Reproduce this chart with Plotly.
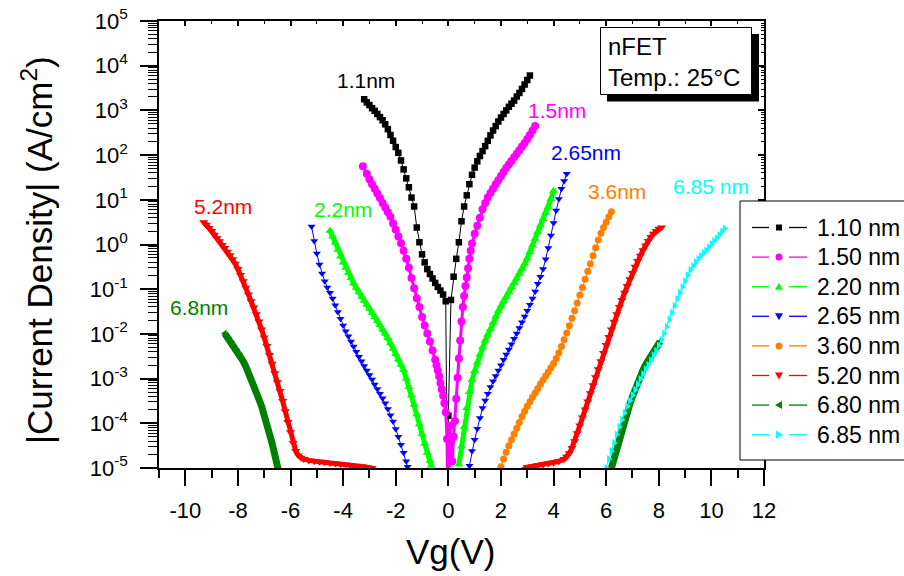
import plotly.graph_objects as go

# ---------------- data (Vg in V, log10 of |J| in A/cm^2) ----------------
names = ["1.10 nm", "1.50 nm", "2.20 nm", "2.65 nm", "3.60 nm", "5.20 nm", "6.80 nm", "6.85 nm"]

v_110 = [-3.2, -3.1, -3.0, -2.9, -2.8, -2.7, -2.6, -2.5, -2.4, -2.3, -2.2, -2.1, -2.0, -1.9, -1.8, -1.7,
         -1.6, -1.5, -1.4, -1.3, -1.2, -1.1, -1.0, -0.9, -0.8, -0.7, -0.6, -0.5, -0.4, -0.3, -0.2, -0.1,
         -0.03, 0.0,
         0.1, 0.2, 0.3, 0.4, 0.5, 0.6, 0.7, 0.8, 0.9, 1.0, 1.1, 1.2, 1.3, 1.4, 1.5, 1.6, 1.7, 1.8, 1.9,
         2.0, 2.1, 2.2, 2.3, 2.4, 2.5, 2.6, 2.7, 2.8, 2.9, 3.0, 3.1]
lj_110 = [3.25, 3.18, 3.12, 3.05, 2.99, 2.92, 2.85, 2.78, 2.69, 2.58, 2.45, 2.32, 2.18, 2.05, 1.88, 1.68,
          1.48, 1.28, 1.05, 0.85, 0.38, 0.05, -0.22, -0.40, -0.55, -0.66, -0.76, -0.86, -0.95, -1.03, -1.12, -1.27,
          -6.0, -3.83,
          -1.24, -0.72, -0.32, 0.05, 0.52, 0.85, 1.10, 1.35, 1.56, 1.72, 1.86, 1.98, 2.09, 2.20, 2.32, 2.44, 2.55, 2.65, 2.75,
          2.84, 2.92, 3.00, 3.08, 3.15, 3.22, 3.31, 3.39, 3.48, 3.58, 3.68, 3.78]

v_150 = [-3.25, -3.1, -3.0, -2.9, -2.8, -2.7, -2.6, -2.5, -2.4, -2.3, -2.2, -2.1, -2.0, -1.9, -1.8, -1.7,
         -1.6, -1.5, -1.4, -1.3, -1.2, -1.1, -1.0, -0.9, -0.8, -0.7, -0.6, -0.5, -0.45, -0.4, -0.35, -0.3,
         -0.25, -0.2, -0.15, -0.1, -0.05, 0.0, 0.05, 0.1, 0.15, 0.2, 0.25, 0.3, 0.35, 0.4, 0.45, 0.5,
         0.55, 0.6, 0.65, 0.7, 0.75, 0.8, 0.85, 0.9, 1.0, 1.1, 1.2, 1.3, 1.4, 1.5, 1.6, 1.7, 1.8, 1.9,
         2.0, 2.1, 2.2, 2.3, 2.4, 2.5, 2.6, 2.7, 2.8, 2.9, 3.0, 3.1, 3.2, 3.3]
lj_150 = [1.75, 1.58, 1.46, 1.35, 1.25, 1.14, 1.04, 0.93, 0.83, 0.72, 0.62, 0.47, 0.33, 0.18, 0.03, -0.14,
          -0.32, -0.52, -0.75, -0.98, -1.20, -1.40, -1.62, -1.81, -1.99, -2.17, -2.37, -2.58, -2.70, -2.82, -2.95, -3.10,
          -3.24, -3.38, -3.55, -3.75, -4.35, -7.0, -4.05, -4.40, -4.85, -4.30, -3.95, -3.45, -2.98, -2.55, -2.15, -1.72,
          -1.40, -1.15, -0.93, -0.74, -0.53, -0.32, -0.14, 0.02, 0.24, 0.42, 0.60, 0.79, 0.93, 1.05, 1.15, 1.25, 1.35, 1.44,
          1.53, 1.62, 1.71, 1.79, 1.87, 1.95, 2.03, 2.11, 2.19, 2.27, 2.36, 2.45, 2.55, 2.65]

v_220 = [-4.5, -4.4, -4.3, -4.2, -4.1, -4.0, -3.9, -3.8, -3.7, -3.6, -3.5, -3.4, -3.3, -3.2, -3.1, -3.0,
         -2.9, -2.8, -2.7, -2.6, -2.5, -2.4, -2.3, -2.2, -2.1, -2.0, -1.9, -1.8, -1.7, -1.6, -1.5, -1.4,
         -1.3, -1.2, -1.1, -1.0, -0.9, -0.8, -0.7, -0.65,
         None,
         0.4, 0.5, 0.6, 0.7, 0.8, 0.9, 1.0, 1.1, 1.2, 1.3, 1.4, 1.5, 1.6, 1.7, 1.8, 1.9, 2.0, 2.1, 2.2,
         2.3, 2.4, 2.5, 2.6, 2.7, 2.8, 2.9, 3.0, 3.1, 3.2, 3.3, 3.4, 3.5, 3.6, 3.7, 3.8, 3.9, 4.0]
lj_220 = [0.31, 0.18, 0.04, -0.12, -0.27, -0.40, -0.52, -0.64, -0.75, -0.87, -0.97, -1.07, -1.17, -1.26, -1.35, -1.44,
          -1.53, -1.62, -1.71, -1.80, -1.90, -1.99, -2.09, -2.21, -2.33, -2.45, -2.57, -2.69, -2.81, -3.00, -3.19, -3.38,
          -3.58, -3.80, -4.02, -4.24, -4.46, -4.66, -4.84, -4.95,
          None,
          -4.92, -4.52, -4.08, -3.66, -3.30, -3.03, -2.83, -2.64, -2.46, -2.30, -2.15, -2.02, -1.89, -1.75, -1.61, -1.48,
          -1.37, -1.27, -1.17, -1.07, -0.96, -0.86, -0.76, -0.65, -0.54, -0.43, -0.31, -0.17, -0.02, 0.13, 0.28, 0.43,
          0.57, 0.71, 0.84, 1.02, 1.20]

v_265 = [-5.2, -5.1, -5.0, -4.9, -4.8, -4.7, -4.6, -4.5, -4.4, -4.3, -4.2, -4.1, -4.0, -3.9, -3.8, -3.7,
         -3.6, -3.5, -3.4, -3.3, -3.2, -3.1, -3.0, -2.9, -2.8, -2.7, -2.6, -2.5, -2.4, -2.3, -2.2, -2.1,
         -2.0, -1.9, -1.8, -1.7, -1.6, -1.55,
         None,
         0.8, 0.9, 1.0, 1.1, 1.2, 1.3, 1.4, 1.5, 1.6, 1.7, 1.8, 1.9, 2.0, 2.1, 2.2, 2.3, 2.4, 2.5, 2.6,
         2.7, 2.8, 2.9, 3.0, 3.1, 3.2, 3.3, 3.4, 3.5, 3.6, 3.7, 3.8, 3.9, 4.0, 4.1, 4.2, 4.3, 4.4, 4.5]
lj_265 = [0.40, 0.08, -0.20, -0.45, -0.65, -0.82, -0.96, -1.08, -1.21, -1.36, -1.51, -1.66, -1.81, -1.94, -2.05, -2.17,
          -2.28, -2.40, -2.51, -2.61, -2.72, -2.82, -2.92, -3.02, -3.13, -3.23, -3.34, -3.44, -3.55, -3.68, -3.82, -3.96,
          -4.13, -4.30, -4.48, -4.66, -4.85, -4.97,
          None,
          -4.95, -4.62, -4.37, -4.12, -3.88, -3.66, -3.49, -3.34, -3.19, -3.06, -2.94, -2.82, -2.70, -2.58, -2.46, -2.35,
          -2.23, -2.11, -1.99, -1.87, -1.74, -1.61, -1.48, -1.35, -1.21, -1.05, -0.88, -0.72, -0.55, -0.33, -0.08, 0.20,
          0.48, 0.76, 1.02, 1.25, 1.42, 1.58]

v_360 = [2.0, 2.1, 2.2, 2.3, 2.4, 2.5, 2.6, 2.7, 2.8, 2.9, 3.0, 3.1, 3.2, 3.3, 3.4, 3.5, 3.6, 3.7, 3.8, 3.9,
         4.0, 4.1, 4.2, 4.3, 4.4, 4.5, 4.6, 4.7, 4.8, 4.9, 5.0, 5.1, 5.2, 5.3, 5.4, 5.5, 5.6, 5.7, 5.8, 5.9,
         6.0, 6.1, 6.2]
lj_360 = [-4.97, -4.80, -4.65, -4.50, -4.37, -4.24, -4.11, -3.98, -3.85, -3.73, -3.62, -3.52, -3.42, -3.32, -3.22,
          -3.12, -3.03, -2.94, -2.85, -2.76, -2.66, -2.55, -2.42, -2.28, -2.13, -1.98, -1.82, -1.65, -1.48, -1.31,
          -1.13, -0.96, -0.78, -0.60, -0.43, -0.25, -0.07, 0.10, 0.25, 0.38, 0.50, 0.62, 0.73]

v_520 = [-9.3, -9.2, -9.1, -9.0, -8.9, -8.8, -8.7, -8.6, -8.5, -8.4, -8.3, -8.2, -8.1, -8.0, -7.9, -7.8,
         -7.7, -7.6, -7.5, -7.4, -7.3, -7.2, -7.1, -7.0, -6.9, -6.8, -6.7, -6.6, -6.5, -6.4, -6.3, -6.2,
         -6.1, -6.0, -5.9, -5.8, -5.7, -5.6, -5.5, -5.3, -5.1, -4.9, -4.7, -4.5, -4.3, -4.1, -3.9, -3.7,
         -3.5, -3.3, -3.1, -2.9, -2.8,
         None,
         2.8, 3.0, 3.2, 3.4, 3.6, 3.8, 4.0, 4.2, 4.4, 4.5, 4.6, 4.7, 4.8, 4.9, 5.0, 5.1, 5.2, 5.3, 5.4,
         5.5, 5.6, 5.7, 5.8, 5.9, 6.0, 6.1, 6.2, 6.3, 6.4, 6.5, 6.6, 6.7, 6.8, 6.9, 7.0, 7.1, 7.2, 7.3,
         7.4, 7.5, 7.6, 7.7, 7.8, 7.9, 8.0, 8.1]
lj_520 = [0.50, 0.44, 0.37, 0.30, 0.22, 0.14, 0.07, -0.01, -0.08, -0.16, -0.24, -0.33, -0.43, -0.55, -0.68, -0.82,
          -0.97, -1.12, -1.27, -1.41, -1.56, -1.72, -1.90, -2.08, -2.27, -2.47, -2.67, -2.88, -3.08, -3.28, -3.50, -3.73,
          -3.97, -4.20, -4.44, -4.62, -4.72, -4.77, -4.80, -4.83, -4.85, -4.86, -4.87, -4.89, -4.90, -4.91, -4.92, -4.94,
          -4.95, -4.96, -4.98, -5.00, -5.05,
          None,
          -5.05, -4.98, -4.96, -4.94, -4.92, -4.90, -4.88, -4.85, -4.80, -4.75, -4.67, -4.55, -4.40, -4.22, -4.05,
          -3.87, -3.69, -3.51, -3.33, -3.15, -2.97, -2.79, -2.61, -2.43, -2.25, -2.07, -1.90, -1.73, -1.56, -1.40,
          -1.24, -1.08, -0.93, -0.78, -0.64, -0.50, -0.37, -0.25, -0.13, -0.02, 0.08, 0.17, 0.24, 0.30, 0.35, 0.38]

v_680 = [-8.5, -8.4, -8.3, -8.2, -8.1, -8.0, -7.9, -7.8, -7.7, -7.6, -7.5, -7.4, -7.3, -7.2, -7.1, -7.0,
         -6.9, -6.8, -6.7, -6.6, -6.5, -6.45,
         None,
         6.2, 6.3, 6.4, 6.5, 6.6, 6.7, 6.8, 6.9, 7.0, 7.1, 7.2, 7.3, 7.4, 7.5, 7.6, 7.7, 7.8, 7.9, 8.0, 8.05]
lj_680 = [-1.99, -2.07, -2.15, -2.23, -2.32, -2.41, -2.50, -2.61, -2.73, -2.86, -3.00, -3.15, -3.30, -3.46, -3.62, -3.80,
          -3.98, -4.20, -4.45, -4.70, -4.95, -5.08,
          None,
          -5.00, -4.78, -4.56, -4.35, -4.15, -3.95, -3.76, -3.57, -3.40, -3.23, -3.08, -2.94, -2.81, -2.69, -2.58, -2.48,
          -2.39, -2.30, -2.22, -2.17]

v_685 = [6.0, 6.1, 6.2, 6.3, 6.4, 6.5, 6.6, 6.7, 6.8, 6.9, 7.0, 7.1, 7.2, 7.3, 7.4, 7.5, 7.6, 7.7, 7.8, 7.9,
         8.0, 8.1, 8.2, 8.3, 8.4, 8.5, 8.6, 8.7, 8.8, 8.9, 9.0, 9.1, 9.2, 9.3, 9.4, 9.5, 9.6, 9.7, 9.8, 9.9,
         10.0, 10.1, 10.2, 10.3, 10.4, 10.5]
lj_685 = [-5.00, -4.80, -4.62, -4.44, -4.25, -4.08, -3.92, -3.77, -3.62, -3.49, -3.37, -3.25, -3.13, -3.01, -2.90,
          -2.79, -2.69, -2.59, -2.48, -2.38, -2.26, -2.13, -1.99, -1.84, -1.68, -1.52, -1.37, -1.22, -1.08, -0.95,
          -0.82, -0.69, -0.57, -0.48, -0.40, -0.32, -0.25, -0.19, -0.13, -0.06, 0.01, 0.08, 0.14, 0.21, 0.29, 0.36]

curve_labels = ["1.1nm", "1.5nm", "2.2nm", "2.65nm", "3.6nm", "5.2nm", "6.8nm", "6.85 nm"]

x_tick_vals = [-10, -8, -6, -4, -2, 0, 2, 4, 6, 8, 10, 12]
x_tick_text = ["-10", "-8", "-6", "-4", "-2", "0", "2", "4", "6", "8", "10", "12"]
y_tick_vals = [1e-5, 1e-4, 1e-3, 1e-2, 1e-1, 1e0, 1e1, 1e2, 1e3, 1e4, 1e5]
y_tick_text = ["10<sup>-5</sup>", "10<sup>-4</sup>", "10<sup>-3</sup>", "10<sup>-2</sup>", "10<sup>-1</sup>",
               "10<sup>0</sup>", "10<sup>1</sup>", "10<sup>2</sup>", "10<sup>3</sup>", "10<sup>4</sup>", "10<sup>5</sup>"]

# ---------------- styling ----------------
FONT = "Liberation Sans, Arial, Helvetica, sans-serif"
colors = ["#000000", "#FF00FF", "#00FF00", "#0000FF", "#FF8000", "#FF0000", "#008000", "#00FFFF"]
symbols = ["square", "circle", "triangle-up", "triangle-down", "circle", "triangle-down", "triangle-left", "triangle-right"]
msizes = [6.5, 8, 8, 7, 7, 8, 7, 7]
lwidths = [1, 3, 5, 1, 1, 5, 7, 1]

all_v = [v_110, v_150, v_220, v_265, v_360, v_520, v_680, v_685]
all_lj = [lj_110, lj_150, lj_220, lj_265, lj_360, lj_520, lj_680, lj_685]
for a, b, n in zip(all_v, all_lj, names):
    assert len(a) == len(b), (n, len(a), len(b))

W, H = 904, 576
PL, PR, PT, PB = 159, 764, 21, 468


def px(x):
    return (x - PL) / (PR - PL)


def py(y):
    return (PB - y) / (PB - PT)


fig = go.Figure()
for i in range(8):
    yv = [None if l is None else 10 ** l for l in all_lj[i]]
    fig.add_trace(go.Scatter(
        x=all_v[i], y=yv, name=names[i], mode="lines+markers",
        line=dict(color=colors[i], width=lwidths[i]),
        marker=dict(symbol=symbols[i], size=msizes[i], color=colors[i], line=dict(width=0)),
        connectgaps=False, showlegend=False, hoverinfo="skip"))

# dummy trace for the mirrored (top / right) axes
fig.add_trace(go.Scatter(x=[None], y=[None], xaxis="x2", yaxis="y2", showlegend=False, hoverinfo="skip"))

x_minor = [-11, -9, -7, -5, -3, -1, 1, 3, 5, 7, 9, 11]
y_minor = [k * 10.0 ** e for e in range(-5, 5) for k in range(2, 10)]

axis_common = dict(showline=True, linecolor="black", linewidth=1.5, showgrid=False, zeroline=False,
                   tickcolor="black", tickwidth=1.5, automargin=False)

fig.update_layout(
    width=W, height=H,
    margin=dict(l=PL, r=W - PR, t=PT, b=H - PB, pad=0, autoexpand=False),
    paper_bgcolor="white", plot_bgcolor="white",
    font=dict(family=FONT, color="black"),
    showlegend=False,
    xaxis=dict(range=[-11, 12], tickmode="array", tickvals=x_tick_vals, ticktext=x_tick_text,
               ticks="outside", ticklen=16, tickfont=dict(size=22, family=FONT), ticklabelstandoff=6,
               minor=dict(tickmode="array", tickvals=x_minor, ticks="outside", ticklen=8,
                          tickcolor="black", tickwidth=1.5),
               **axis_common),
    yaxis=dict(type="log", range=[-5, 5], tickmode="array", tickvals=y_tick_vals, ticktext=y_tick_text,
               ticks="outside", ticklen=17, tickfont=dict(size=22, family=FONT), ticklabelstandoff=8,
               minor=dict(tickmode="array", tickvals=y_minor, ticks="outside", ticklen=9,
                          tickcolor="black", tickwidth=1),
               **axis_common),
    xaxis2=dict(overlaying="x", side="top", anchor="y", range=[-11, 12], tickmode="array",
                tickvals=x_tick_vals, showticklabels=False, ticks="inside", ticklen=5,
                minor=dict(tickmode="array", tickvals=x_minor, ticks="inside", ticklen=3,
                           tickcolor="black", tickwidth=1),
                **axis_common),
    yaxis2=dict(overlaying="y", side="right", anchor="x", type="log", range=[-5, 5], tickmode="array",
                tickvals=y_tick_vals, showticklabels=False, ticks="inside", ticklen=6,
                minor=dict(tickmode="array", tickvals=y_minor, ticks="inside", ticklen=3,
                           tickcolor="black", tickwidth=1),
                **axis_common),
)

shapes = []
annotations = []

# axis titles
annotations.append(dict(text="|Current Density| (A/cm<sup>2</sup>)", xref="paper", yref="paper",
                        x=px(37), y=py(250), xanchor="center", yanchor="middle", textangle=-90,
                        showarrow=False, font=dict(size=35, family=FONT, color="black")))
annotations.append(dict(text="Vg(V)", xref="paper", yref="paper", x=px(450), y=py(551),
                        xanchor="center", yanchor="middle", showarrow=False,
                        font=dict(size=35, family=FONT, color="black")))

# curve labels
label_pos = [(366, 80), (557, 110), (343, 210), (586, 152), (617, 191), (223, 206), (199, 308), (711, 187)]
for i in range(8):
    annotations.append(dict(text=curve_labels[i], xref="paper", yref="paper",
                            x=px(label_pos[i][0]), y=py(label_pos[i][1]), xanchor="center", yanchor="middle",
                            showarrow=False, font=dict(size=21, family=FONT, color=colors[i])))

# info box with shadow
shapes.append(dict(type="rect", xref="paper", yref="paper", x0=px(607), x1=px(759), y0=py(101.5), y1=py(34),
                   fillcolor="black", line=dict(width=0), layer="above"))
shapes.append(dict(type="rect", xref="paper", yref="paper", x0=px(600.5), x1=px(751.5), y0=py(94.5), y1=py(27.5),
                   fillcolor="white", line=dict(color="black", width=1), layer="above"))
annotations.append(dict(text="nFET<br>Temp.: 25°C", xref="paper", yref="paper", x=px(606), y=py(62),
                        xanchor="left", yanchor="middle", align="left", showarrow=False,
                        font=dict(size=24, family=FONT, color="black")))

# hand-drawn legend (Origin style: line - marker - line)
shapes.append(dict(type="rect", xref="paper", yref="paper", x0=px(740), x1=px(915), y0=py(460), y1=py(201),
                   fillcolor="white", line=dict(color="black", width=1), layer="above"))
leg_y0, leg_dy = 227.5, 29.6
mx = 779
for i in range(8):
    yy = leg_y0 + i * leg_dy
    for (a, b) in [(752, 769), (789, 807)]:
        shapes.append(dict(type="line", xref="paper", yref="paper", x0=px(a), x1=px(b), y0=py(yy), y1=py(yy),
                           line=dict(color=colors[i], width=1.3), layer="above"))
    base = dict(xref="paper", yref="paper", xsizemode="pixel", ysizemode="pixel",
                xanchor=px(mx), yanchor=py(yy), fillcolor=colors[i], line=dict(width=0), layer="above")
    sym = symbols[i]
    if sym == "square":
        shapes.append(dict(type="rect", x0=-3, x1=3, y0=-3, y1=3, **base))
    elif sym == "circle":
        shapes.append(dict(type="circle", x0=-3.5, x1=3.5, y0=-3.5, y1=3.5, **base))
    elif sym == "triangle-up":
        shapes.append(dict(type="path", path="M -4,-3 L 4,-3 L 0,4 Z", **base))
    elif sym == "triangle-down":
        shapes.append(dict(type="path", path="M -4,3 L 4,3 L 0,-4 Z", **base))
    elif sym == "triangle-left":
        shapes.append(dict(type="path", path="M 3,-4 L 3,4 L -4,0 Z", **base))
    elif sym == "triangle-right":
        shapes.append(dict(type="path", path="M -3,-4 L -3,4 L 4,0 Z", **base))
    annotations.append(dict(text=names[i], xref="paper", yref="paper", x=px(815), y=py(yy),
                            xanchor="left", yanchor="middle", showarrow=False,
                            font=dict(size=23, family=FONT, color="black")))

fig.update_layout(shapes=shapes, annotations=annotations)
fig.write_html("out.html", config={"displayModeBar": False},
               post_script="document.body.style.margin='0px';document.body.style.padding='0px';"
                           "document.body.style.overflow='hidden';")
